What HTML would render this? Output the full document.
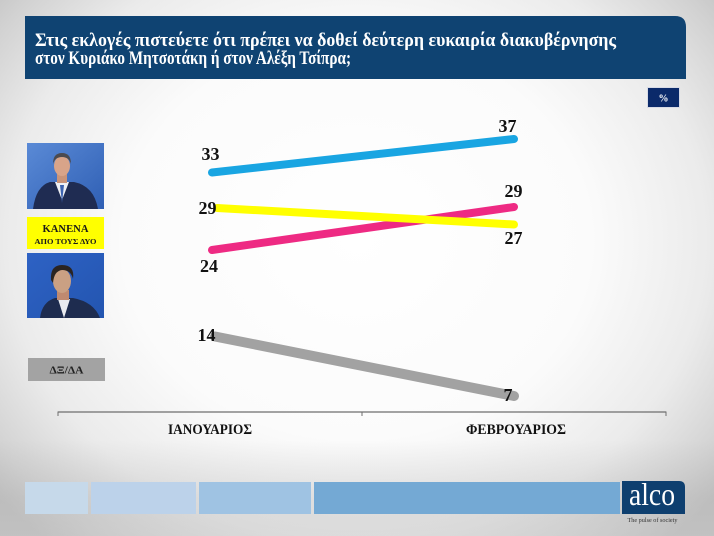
<!DOCTYPE html>
<html>
<head>
<meta charset="utf-8">
<style>
  html,body{margin:0;padding:0;width:714px;height:536px;overflow:hidden;background:#fff;}
  svg{display:block;}
  text{font-family:"Liberation Serif","DejaVu Serif",serif;}
</style>
</head>
<body>
<svg width="714" height="536" viewBox="0 0 714 536" xmlns="http://www.w3.org/2000/svg">
  <defs>
    <radialGradient id="bg" cx="357" cy="240" r="470" gradientUnits="userSpaceOnUse" gradientTransform="translate(357 240) scale(1 0.85) translate(-357 -240)">
      <stop offset="0" stop-color="#ffffff"/>
      <stop offset="0.5" stop-color="#fbfbfb"/>
      <stop offset="0.75" stop-color="#ebebeb"/>
      <stop offset="0.92" stop-color="#d2d2d2"/>
      <stop offset="1" stop-color="#c4c4c4"/>
    </radialGradient>
    <linearGradient id="bot" x1="0" y1="440" x2="0" y2="536" gradientUnits="userSpaceOnUse">
      <stop offset="0" stop-color="#a0a0a0" stop-opacity="0"/>
      <stop offset="0.6" stop-color="#a8a8a8" stop-opacity="0.25"/>
      <stop offset="1" stop-color="#bdbdbd" stop-opacity="0.35"/>
    </linearGradient>
    <linearGradient id="p1" x1="0" y1="0" x2="1" y2="1">
      <stop offset="0" stop-color="#5a8ad6"/>
      <stop offset="1" stop-color="#2f5fb4"/>
    </linearGradient>
    <linearGradient id="p2" x1="0" y1="0" x2="1" y2="1">
      <stop offset="0" stop-color="#2e62c4"/>
      <stop offset="1" stop-color="#2355b0"/>
    </linearGradient>
  </defs>

  <!-- background -->
  <rect x="0" y="0" width="714" height="536" fill="url(#bg)"/>
  <rect x="0" y="440" width="714" height="96" fill="url(#bot)"/>

  <!-- header -->
  <path d="M25 16 H675 Q686 16 686 27 V79 H25 Z" fill="#0f4372"/>
  <text x="35" y="46" font-size="19" font-weight="bold" fill="#ffffff" textLength="581" lengthAdjust="spacingAndGlyphs">Στις εκλογές πιστεύετε ότι πρέπει να δοθεί δεύτερη ευκαιρία διακυβέρνησης</text>
  <text x="35" y="64" font-size="19" font-weight="bold" fill="#ffffff" textLength="316" lengthAdjust="spacingAndGlyphs">στον Κυριάκο Μητσοτάκη ή στον Αλέξη Τσίπρα;</text>

  <!-- % box -->
  <rect x="647.5" y="87.5" width="32" height="20" fill="#0b2a6a" stroke="#d8dbe6" stroke-width="1"/>
  <text x="663.5" y="101.5" font-size="10" font-weight="bold" fill="#ffffff" text-anchor="middle">%</text>

  <!-- Mitsotakis photo -->
  <rect x="27" y="143" width="77" height="66" fill="url(#p1)"/>
  <path d="M33 209 Q36 186 50 182 L74 182 Q94 186 98 209 Z" fill="#1f2c52"/>
  <path d="M55 182 L62 200 L69 182 Z" fill="#eef0f4"/>
  <path d="M60 185 L62 203 L64 185 Z" fill="#3c63b0"/>
  <rect x="57" y="174" width="10" height="9" fill="#c99479"/>
  <ellipse cx="62" cy="166" rx="8" ry="10" fill="#d8a489"/>
  <path d="M53 164 Q53 153 62 153 Q71 153 71 164 Q69 157 62 157 Q55 157 53 164 Z" fill="#4b4a4f"/>

  <!-- KANENA yellow box -->
  <rect x="27" y="217" width="77" height="32" fill="#ffff00"/>
  <text x="65.5" y="232" font-size="11" font-weight="bold" fill="#1a1a1a" text-anchor="middle" textLength="46" lengthAdjust="spacingAndGlyphs">ΚΑΝΕΝΑ</text>
  <text x="65.5" y="244" font-size="7.5" font-weight="bold" fill="#1a1a1a" text-anchor="middle" textLength="62" lengthAdjust="spacingAndGlyphs">ΑΠΟ ΤΟΥΣ ΔΥΟ</text>

  <!-- Tsipras photo -->
  <rect x="27" y="253" width="77" height="65" fill="url(#p2)"/>
  <path d="M40 318 Q42 302 55 298 L73 298 Q94 302 100 318 Z" fill="#1e2c4f"/>
  <path d="M58 299 L64 318 L70 299 Z" fill="#e9ebf0"/>
  <rect x="57" y="290" width="12" height="10" fill="#c08a70"/>
  <ellipse cx="62" cy="281" rx="9" ry="12" fill="#caa083"/>
  <path d="M51 280 Q50 265 62 265 Q75 265 73 279 Q71 270 62 270 Q54 271 53 283 Z" fill="#2a2422"/>

  <!-- DX/DA gray box -->
  <rect x="28" y="358" width="77" height="23" fill="#a3a3a3"/>
  <text x="66.5" y="373.5" font-size="10" font-weight="bold" fill="#222" text-anchor="middle" textLength="34" lengthAdjust="spacingAndGlyphs">ΔΞ/ΔΑ</text>

  <!-- series lines -->
  <line x1="212" y1="172.5" x2="514" y2="139" stroke="#19a5e2" stroke-width="8" stroke-linecap="round"/>
  <line x1="212" y1="250" x2="514" y2="207" stroke="#ee2a83" stroke-width="8" stroke-linecap="round"/>
  <line x1="217" y1="208" x2="514" y2="224.5" stroke="#ffff00" stroke-width="8" stroke-linecap="round"/>
  <line x1="215" y1="336.5" x2="514" y2="396" stroke="#a2a2a2" stroke-width="10" stroke-linecap="round"/>

  <!-- value labels -->
  <g font-size="18" font-weight="bold" fill="#111" text-anchor="middle">
    <text x="210.5" y="160">33</text>
    <text x="507.5" y="132">37</text>
    <text x="207.5" y="214">29</text>
    <text x="209" y="272">24</text>
    <text x="513.5" y="197">29</text>
    <text x="513.5" y="244">27</text>
    <text x="206.5" y="341">14</text>
    <text x="508" y="401">7</text>
  </g>

  <!-- axis -->
  <line x1="58" y1="412" x2="666" y2="412" stroke="#6e6e6e" stroke-width="1.3"/>
  <line x1="58" y1="411.5" x2="58" y2="416" stroke="#6e6e6e" stroke-width="1"/>
  <line x1="362" y1="411.5" x2="362" y2="416" stroke="#6e6e6e" stroke-width="1"/>
  <line x1="666" y1="411.5" x2="666" y2="416" stroke="#6e6e6e" stroke-width="1"/>
  <text x="210" y="434" font-size="15" font-weight="bold" fill="#111" text-anchor="middle" textLength="84" lengthAdjust="spacingAndGlyphs">ΙΑΝΟΥΑΡΙΟΣ</text>
  <text x="516" y="434" font-size="15" font-weight="bold" fill="#111" text-anchor="middle" textLength="100" lengthAdjust="spacingAndGlyphs">ΦΕΒΡΟΥΑΡΙΟΣ</text>

  <!-- footer bar -->
  <rect x="25" y="482" width="63" height="32" fill="#c6d9ea"/>
  <rect x="91" y="482" width="105" height="32" fill="#bcd2ea"/>
  <rect x="199" y="482" width="112" height="32" fill="#9fc3e3"/>
  <rect x="314" y="482" width="306" height="32" fill="#74a9d4"/>

  <!-- alco logo -->
  <path d="M622 481 H679 Q685 481 685 487 V514 H622 Z" fill="#0e3f6f"/>
  <text x="652" y="505" font-size="32" fill="#ffffff" text-anchor="middle" textLength="46" lengthAdjust="spacingAndGlyphs">alco</text>
  <text x="652.5" y="522" font-size="6" fill="#333" text-anchor="middle" textLength="50" lengthAdjust="spacingAndGlyphs" font-family="Liberation Sans, sans-serif">The pulse of society</text>
</svg>
</body>
</html>
